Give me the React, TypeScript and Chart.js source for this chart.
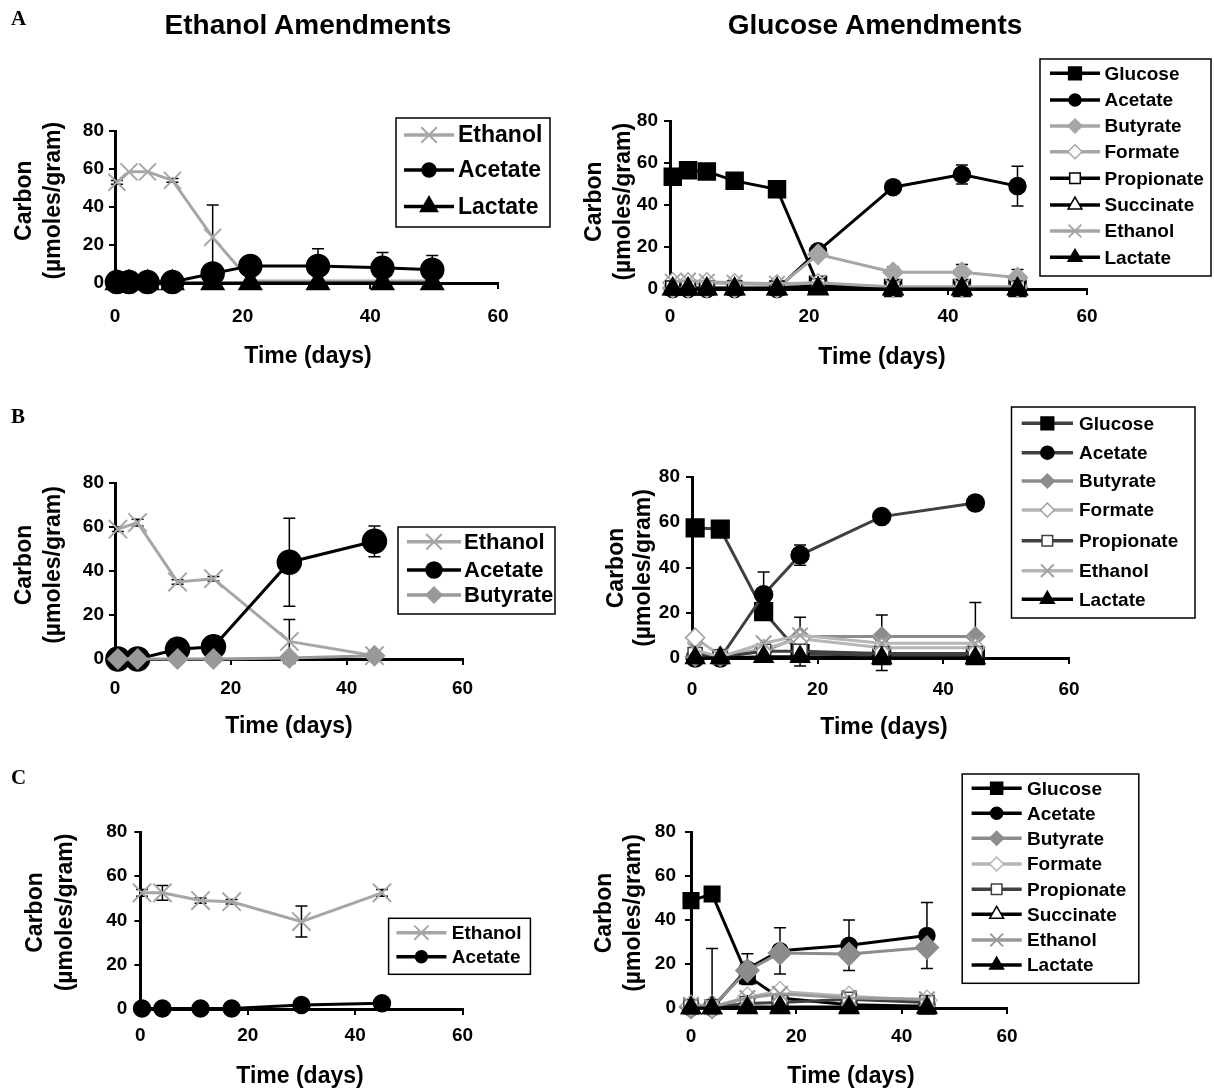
import React, { useEffect, useRef } from 'react';
import { Chart, registerables } from 'chart.js';
import { drawPoint } from 'chart.js/helpers';

Chart.register(...registerables);

const W = 1214;
const H = 1088;
const FONT = '"Liberation Sans", Arial, Helvetica, sans-serif';

// ---------------- text ----------------
const HEADERS = ['Ethanol Amendments', 'Glucose Amendments'];
const ROW_LETTERS = ['A', 'B', 'C'];
const X_TITLE = 'Time (days)';
const Y_TITLE = ['Carbon', '(µmoles/gram)'];
const X_MAX = 60;
const Y_MAX = 80;
const TICK_STEP = 20;

// ---------------- data: A, ethanol amendment ----------------
const A_ETH_DAYS = [0.3, 2.2, 5.1, 9, 15.3, 21.2, 31.8, 41.9, 49.7];
const A_ETH_ETHANOL = [53, 58.5, 58.5, 54, 24, 1, 1, 1, 1];
const A_ETH_ETHANOL_ERR = [1, 0, 0, 1, 17, 0, 0, 0, 0];
const A_ETH_ACETATE = [0.5, 0.5, 0.5, 0.5, 5, 9, 9, 8, 7];
const A_ETH_ACETATE_ERR = [0, 0, 0, 0, 0, 1, 9, 8, 7.5];
const A_ETH_LACTATE = [0, 0, 0, 0, 0, 0, 0, 0, 0];

// ---------------- data: A, glucose amendment ----------------
const A_GLU_DAYS = [0.4, 2.6, 5.3, 9.3, 15.4, 21.3, 32.1, 42, 50];
const A_GLU_GLUCOSE = [53.5, 56.5, 56, 51.5, 47.5, 2, 0.5, 0.5, 0.5];
const A_GLU_ACETATE = [0, 0, 0, 0, 0, 18, 48.5, 54.5, 49];
const A_GLU_ACETATE_ERR = [0, 0, 0, 0, 0, 1, 1.5, 4.5, 9.5];
const A_GLU_BUTYRATE = [0.5, 0.5, 0.5, 0.5, 0.5, 16.5, 8, 8, 5.5];
const A_GLU_BUTYRATE_ERR_UP = [0, 0, 0, 0, 0, 0, 2.5, 3.7, 3.8];
const A_GLU_BUTYRATE_ERR_DOWN = [0, 0, 0, 0, 0, 0, 0, 0, 0];
const A_GLU_FORMATE = [3, 3, 3, 2.5, 2, 2.5, 1, 1, 1];
const A_GLU_PROPIONATE = [0.5, 0.5, 0.5, 0.5, 0.5, 1.5, 0.5, 0.5, 0.5];
const A_GLU_SUCCINATE = [0, 0, 0, 0, 0, 0.5, 0, 0, 0];
const A_GLU_ETHANOL = [3.5, 4, 3.5, 3, 2.5, 3, 1, 1, 1];
const A_GLU_LACTATE = [0, 0, 0, 0, 0, 0, 0, 0, 0];

// ---------------- data: B, ethanol amendment ----------------
const B_ETH_DAYS = [0.5, 3.9, 10.8, 17, 30.1, 44.8];
const B_ETH_ETHANOL = [59, 62, 35, 36.5, 8, 1.5];
const B_ETH_ETHANOL_ERR = [1, 1.5, 1, 1, 10, 0.5];
const B_ETH_ACETATE = [0, 0, 4.4, 5.6, 44, 53.5];
const B_ETH_ACETATE_ERR = [0, 0, 0.5, 0.5, 20, 7];
const B_ETH_BUTYRATE = [0, 0, 0, 0, 0.5, 1.5];

// ---------------- data: B, glucose amendment ----------------
const B_GLU_DAYS = [0.5, 4.5, 11.4, 17.2, 30.2, 45.1];
const B_GLU_GLUCOSE = [57.5, 57, 20.5, 2, 1, 1];
const B_GLU_GLUCOSE_ERR = [0, 0, 0, 5.5, 6.5, 1];
const B_GLU_ACETATE = [0, 0, 28, 45.5, 62.5, 68.5];
const B_GLU_ACETATE_ERR = [0, 0, 10, 4.5, 1, 0.5];
const B_GLU_BUTYRATE = [0.5, 0.5, 3, 9.5, 9.5, 9.5];
const B_GLU_BUTYRATE_ERR_UP = [0, 0, 0, 8.5, 9.5, 15];
const B_GLU_BUTYRATE_ERR_DOWN = [0, 0, 0, 0, 0, 0];
const B_GLU_FORMATE = [9, 1, 4, 8.5, 4.5, 4.5];
const B_GLU_FORMATE_ERR = [1.5, 0, 0, 0, 0, 0];
const B_GLU_PROPIONATE = [1.5, 0.5, 3, 3, 2, 2];
const B_GLU_ETHANOL = [3.5, 0.5, 6.5, 10, 6.5, 6.5];
const B_GLU_LACTATE = [0, 0, 0.5, 0.5, 0, 0];

// ---------------- data: C, ethanol amendment ----------------
const C_ETH_DAYS = [0.3, 4.1, 11.2, 17, 30, 45];
const C_ETH_ETHANOL = [52.5, 52.5, 49, 48.5, 39.5, 52.5];
const C_ETH_ETHANOL_ERR = [1.5, 3.3, 1.2, 1, 7, 1.5];
const C_ETH_ACETATE = [0.2, 0.2, 0.2, 0.2, 1.8, 2.6];

// ---------------- data: C, glucose amendment ----------------
const C_GLU_DAYS = [0, 4, 10.7, 16.9, 30, 44.8];
const C_GLU_GLUCOSE = [48.8, 51.8, 14.6, 4.5, 1.5, 0.8];
const C_GLU_ACETATE = [0, 0, 17.7, 26, 28.5, 33];
const C_GLU_ACETATE_ERR = [0, 0, 7, 10.5, 11.5, 15];
const C_GLU_BUTYRATE = [0.5, 0.5, 17, 25, 24.5, 27.5];
const C_GLU_BUTYRATE_ERR_UP = [0, 26.5, 0, 0, 0, 0];
const C_GLU_BUTYRATE_ERR_DOWN = [0, 0, 0, 0, 0, 0];
const C_GLU_FORMATE = [1, 0.5, 5, 7.5, 5.3, 3.5];
const C_GLU_FORMATE_ERR = [0, 0, 2, 0, 2.5, 2];
const C_GLU_PROPIONATE = [0.5, 0.5, 2, 2.5, 4, 2.5];
const C_GLU_SUCCINATE = [0, 0, 0.5, 0.5, 0.5, 0.5];
const C_GLU_ETHANOL = [1.5, 0.5, 4.5, 6.5, 4.5, 4];
const C_GLU_LACTATE = [0, 0, 0, 0, 0, 0];

// ---------------- styles ----------------
const BLACK = '#000000';
const GRAY = '#a6a6a6';
const MIDGRAY = '#8c8c8c';
const LIGHTGRAY = '#b6b6b6';
const DARKGRAY = '#404040';
const WHITE = '#ffffff';

type Style = { shape: string; line: string; edge: string; fill: string };
const solid = (shape: string, c: string, line: string = c): Style => ({ shape, line, edge: c, fill: c });
const open = (shape: string, c: string, line: string = c): Style => ({ shape, line, edge: c, fill: WHITE });
const cross = (c: string, line: string = c): Style => ({ shape: 'crossRot', line, edge: c, fill: c });

type Series = Style & { label: string; y: number[]; eu?: number[]; ed?: number[]; r: number; lr: number };
type Legend = { box: [number, number, number, number]; rows: number[]; x1: number; x2: number; tx: number; size: number };
type Panel = {
  days: number[];
  area: [number, number, number, number];
  xPad: number;
  yPad: number;
  series: Series[];
  legend: Legend;
  xTitle: [number, number];
  yTitle: [number, number, number];
};

const PANELS: Panel[] = [
  {
    days: A_ETH_DAYS,
    area: [115, 131, 498, 283],
    xPad: 16,
    yPad: 5,
    series: [
      { label: 'Ethanol', y: A_ETH_ETHANOL, eu: A_ETH_ETHANOL_ERR, ...cross(GRAY), r: 12, lr: 11 },
      { label: 'Acetate', y: A_ETH_ACETATE, eu: A_ETH_ACETATE_ERR, ...solid('circle', BLACK), r: 11.5, lr: 7 },
      { label: 'Lactate', y: A_ETH_LACTATE, ...solid('triangle', BLACK), r: 13, lr: 10 },
    ],
    legend: { box: [396, 118, 154, 109], rows: [135, 170, 206.5], x1: 404, x2: 454, tx: 458, size: 23 },
    xTitle: [308, 357],
    yTitle: [25, 53.6, 200.7],
  },
  {
    days: A_GLU_DAYS,
    area: [670, 121, 1087, 289],
    xPad: 10,
    yPad: 6,
    series: [
      { label: 'Glucose', y: A_GLU_GLUCOSE, ...solid('rect', BLACK), r: 12, lr: 9 },
      { label: 'Acetate', y: A_GLU_ACETATE, eu: A_GLU_ACETATE_ERR, ...solid('circle', BLACK), r: 8.5, lr: 6 },
      { label: 'Butyrate', y: A_GLU_BUTYRATE, eu: A_GLU_BUTYRATE_ERR_UP, ed: A_GLU_BUTYRATE_ERR_DOWN, ...solid('rectRot', GRAY), r: 10, lr: 7 },
      { label: 'Formate', y: A_GLU_FORMATE, ...open('rectRot', GRAY), r: 10, lr: 7 },
      { label: 'Propionate', y: A_GLU_PROPIONATE, ...open('rect', BLACK), r: 10, lr: 7.5 },
      { label: 'Succinate', y: A_GLU_SUCCINATE, ...open('triangle', BLACK), r: 11, lr: 8 },
      { label: 'Ethanol', y: A_GLU_ETHANOL, ...cross(GRAY), r: 11, lr: 9 },
      { label: 'Lactate', y: A_GLU_LACTATE, ...solid('triangle', BLACK), r: 11.5, lr: 8 },
    ],
    legend: { box: [1040, 59, 171, 217], rows: [73.3, 100, 126, 151.7, 178.3, 205, 231, 257.3], x1: 1050, x2: 1100, tx: 1104.5, size: 19 },
    xTitle: [882, 358],
    yTitle: [594.6, 623.4, 201.7],
  },
  {
    days: B_ETH_DAYS,
    area: [115, 483, 462.5, 659],
    xPad: 12,
    yPad: 5,
    series: [
      { label: 'Ethanol', y: B_ETH_ETHANOL, eu: B_ETH_ETHANOL_ERR, ...cross(GRAY), r: 13, lr: 11 },
      { label: 'Acetate', y: B_ETH_ACETATE, eu: B_ETH_ACETATE_ERR, ...solid('circle', BLACK), r: 12, lr: 8 },
      { label: 'Butyrate', y: B_ETH_BUTYRATE, ...solid('rectRot', '#999999'), r: 10, lr: 8 },
    ],
    legend: { box: [398, 527, 157, 87], rows: [541.7, 570, 595], x1: 407, x2: 461, tx: 464, size: 22 },
    xTitle: [289, 727],
    yTitle: [25, 53.6, 565],
  },
  {
    days: B_GLU_DAYS,
    area: [692, 477, 1069, 658],
    xPad: 14,
    yPad: 6,
    series: [
      { label: 'Glucose', y: B_GLU_GLUCOSE, eu: B_GLU_GLUCOSE_ERR, ...solid('rect', BLACK, DARKGRAY), r: 12.5, lr: 9 },
      { label: 'Acetate', y: B_GLU_ACETATE, eu: B_GLU_ACETATE_ERR, ...solid('circle', BLACK, DARKGRAY), r: 9, lr: 6.5 },
      { label: 'Butyrate', y: B_GLU_BUTYRATE, eu: B_GLU_BUTYRATE_ERR_UP, ed: B_GLU_BUTYRATE_ERR_DOWN, ...solid('rectRot', MIDGRAY), r: 9.5, lr: 7 },
      { label: 'Formate', y: B_GLU_FORMATE, eu: B_GLU_FORMATE_ERR, ...open('rectRot', '#a0a0a0', LIGHTGRAY), r: 9.5, lr: 7 },
      { label: 'Propionate', y: B_GLU_PROPIONATE, ...open('rect', DARKGRAY), r: 10, lr: 7.5 },
      { label: 'Ethanol', y: B_GLU_ETHANOL, ...cross('#a0a0a0', LIGHTGRAY), r: 11, lr: 9 },
      { label: 'Lactate', y: B_GLU_LACTATE, ...solid('triangle', BLACK), r: 11, lr: 8 },
    ],
    legend: { box: [1011.5, 407, 183.5, 211], rows: [423.3, 452.7, 481, 510, 540.7, 570.7, 599.3], x1: 1021.7, x2: 1073, tx: 1079, size: 19 },
    xTitle: [884, 728],
    yTitle: [617, 644, 568],
  },
  {
    days: C_ETH_DAYS,
    area: [140.4, 832, 462.5, 1009],
    xPad: 9,
    yPad: 7,
    series: [
      { label: 'Ethanol', y: C_ETH_ETHANOL, eu: C_ETH_ETHANOL_ERR, ...cross(GRAY), r: 13, lr: 10 },
      { label: 'Acetate', y: C_ETH_ACETATE, ...solid('circle', BLACK), r: 8.5, lr: 6 },
    ],
    legend: { box: [388.6, 918.3, 141.8, 56], rows: [932.7, 956.7], x1: 396.4, x2: 446.4, tx: 451.8, size: 19 },
    xTitle: [300, 1077],
    yTitle: [35.7, 66, 912.5],
  },
  {
    days: C_GLU_DAYS,
    area: [691, 832, 1007, 1008],
    xPad: 11,
    yPad: 9,
    series: [
      { label: 'Glucose', y: C_GLU_GLUCOSE, ...solid('rect', BLACK), r: 11, lr: 8.5 },
      { label: 'Acetate', y: C_GLU_ACETATE, eu: C_GLU_ACETATE_ERR, ...solid('circle', BLACK), r: 8, lr: 6 },
      { label: 'Butyrate', y: C_GLU_BUTYRATE, eu: C_GLU_BUTYRATE_ERR_UP, ed: C_GLU_BUTYRATE_ERR_DOWN, ...solid('rectRot', MIDGRAY), r: 11.5, lr: 7 },
      { label: 'Formate', y: C_GLU_FORMATE, eu: C_GLU_FORMATE_ERR, ...open('rectRot', LIGHTGRAY), r: 10, lr: 7 },
      { label: 'Propionate', y: C_GLU_PROPIONATE, ...open('rect', DARKGRAY), r: 10, lr: 7.5 },
      { label: 'Succinate', y: C_GLU_SUCCINATE, ...open('triangle', BLACK), r: 11, lr: 8 },
      { label: 'Ethanol', y: C_GLU_ETHANOL, ...cross('#999999'), r: 11, lr: 9 },
      { label: 'Lactate', y: C_GLU_LACTATE, ...solid('triangle', BLACK), r: 11, lr: 8 },
    ],
    legend: { box: [962.2, 774, 176.6, 209.3], rows: [788.3, 813.3, 838.3, 864, 889.3, 914.3, 940, 965], x1: 971.6, x2: 1021.7, tx: 1027, size: 19 },
    xTitle: [851, 1077],
    yTitle: [605, 633.7, 913],
  },
];

// ---------------- plugins ----------------
const errorBars = {
  id: 'errorBars',
  beforeDatasetsDraw(chart: any) {
    const ctx = chart.ctx;
    const xs = chart.scales.x;
    const ys = chart.scales.y;
    ctx.save();
    ctx.strokeStyle = BLACK;
    ctx.lineWidth = 1.5;
    chart.data.datasets.forEach((ds: any) => {
      const up: number[] | undefined = ds.errUp;
      const dn: number[] | undefined = ds.errDown;
      if (!up && !dn) return;
      ds.data.forEach((pt: any, j: number) => {
        const u = up ? up[j] : 0;
        const d = dn ? dn[j] : 0;
        if (!u && !d) return;
        const px = xs.getPixelForValue(pt.x);
        const yTop = ys.getPixelForValue(pt.y + u);
        const yBot = ys.getPixelForValue(pt.y - d);
        ctx.beginPath();
        ctx.moveTo(px, yTop);
        ctx.lineTo(px, yBot);
        if (u) {
          ctx.moveTo(px - 6, yTop);
          ctx.lineTo(px + 6, yTop);
        }
        if (d) {
          ctx.moveTo(px - 6, yBot);
          ctx.lineTo(px + 6, yBot);
        }
        ctx.stroke();
      });
    });
    ctx.restore();
  },
};

function legendPlugin(p: Panel) {
  return {
    id: 'panelLegend',
    afterDatasetsDraw(chart: any) {
      const ctx = chart.ctx;
      const L = p.legend;
      const [bx, by, bw, bh] = L.box;
      ctx.save();
      ctx.fillStyle = WHITE;
      ctx.fillRect(bx, by, bw, bh);
      ctx.strokeStyle = BLACK;
      ctx.lineWidth = 1.5;
      ctx.strokeRect(bx, by, bw, bh);
      p.series.forEach((s, i) => {
        const y = L.rows[i];
        ctx.strokeStyle = s.line;
        ctx.lineWidth = 3.5;
        ctx.beginPath();
        ctx.moveTo(L.x1, y);
        ctx.lineTo(L.x2, y);
        ctx.stroke();
        ctx.fillStyle = s.fill;
        ctx.strokeStyle = s.edge;
        const bwid = s.shape === 'crossRot' ? 2 : 1.5;
        ctx.lineWidth = bwid;
        drawPoint(ctx, { pointStyle: s.shape as any, radius: s.lr, rotation: 0, borderWidth: bwid } as any, (L.x1 + L.x2) / 2, y);
        ctx.fillStyle = BLACK;
        ctx.font = `bold ${L.size}px ${FONT}`;
        ctx.textAlign = 'left';
        ctx.textBaseline = 'middle';
        ctx.fillText(s.label, L.tx, y + 1);
      });
      ctx.restore();
    },
  };
}

function titlesPlugin(p: Panel) {
  return {
    id: 'axisTitles',
    afterDraw(chart: any) {
      const ctx = chart.ctx;
      ctx.save();
      ctx.fillStyle = BLACK;
      ctx.font = `bold 23px ${FONT}`;
      ctx.textAlign = 'center';
      ctx.textBaseline = 'middle';
      ctx.fillText(X_TITLE, p.xTitle[0], p.xTitle[1]);
      const [x1, x2, cy] = p.yTitle;
      [x1, x2].forEach((x, i) => {
        ctx.save();
        ctx.translate(x, cy);
        ctx.rotate(-Math.PI / 2);
        ctx.fillText(Y_TITLE[i], 0, 0);
        ctx.restore();
      });
      ctx.restore();
    },
  };
}

const Y_BOX = 60; // width reserved for y tick labels
const X_BOX = 48; // height reserved for x tick labels

function buildConfig(p: Panel): any {
  const [l, t, r, b] = p.area;
  const n = p.series.length;
  const tickFont = { family: FONT, size: 19, weight: 'bold' as const };
  return {
    type: 'line',
    data: {
      datasets: p.series.map((s, i) => ({
        label: s.label,
        data: p.days.map((d, j) => ({ x: d, y: s.y[j] })),
        borderColor: s.line,
        borderWidth: 3,
        backgroundColor: s.fill,
        pointStyle: s.shape,
        pointRadius: s.r,
        pointHoverRadius: s.r,
        pointBackgroundColor: s.fill,
        pointBorderColor: s.edge,
        pointBorderWidth: s.shape === 'crossRot' ? 2 : 1.5,
        tension: 0,
        fill: false,
        clip: false,
        order: n - i,
        errUp: s.eu,
        errDown: s.ed ?? s.eu,
      })),
    },
    options: {
      animation: false,
      responsive: false,
      events: [],
      layout: { padding: { left: l - Y_BOX, top: t, right: W - r, bottom: H - b - X_BOX } },
      scales: {
        x: {
          type: 'linear',
          min: 0,
          max: X_MAX,
          afterFit: (s: any) => {
            s.height = X_BOX;
          },
          ticks: { stepSize: TICK_STEP, color: BLACK, font: tickFont, padding: p.xPad, maxRotation: 0, autoSkip: false },
          grid: { drawOnChartArea: false, drawTicks: true, tickLength: 6, color: BLACK, lineWidth: 2 },
          border: { display: true, color: BLACK, width: 3 },
        },
        y: {
          type: 'linear',
          min: 0,
          max: Y_MAX,
          afterFit: (s: any) => {
            s.width = Y_BOX;
          },
          ticks: { stepSize: TICK_STEP, color: BLACK, font: tickFont, padding: p.yPad },
          grid: { drawOnChartArea: false, drawTicks: true, tickLength: 6, color: BLACK, lineWidth: 2 },
          border: { display: true, color: BLACK, width: 3 },
        },
      },
      plugins: { legend: { display: false }, tooltip: { enabled: false } },
    },
    plugins: [errorBars, legendPlugin(p), titlesPlugin(p)],
  };
}

const HEADER_POS: [number, number][] = [
  [308, 25],
  [875, 25],
];
const LETTER_TOPS = [8, 406, 767];

export default function App() {
  const refs = useRef<(HTMLCanvasElement | null)[]>([]);
  useEffect(() => {
    const charts = PANELS.map((p, i) => new Chart(refs.current[i] as HTMLCanvasElement, buildConfig(p)));
    return () => charts.forEach((c) => c.destroy());
  }, []);
  return (
    <div style={{ position: 'absolute', left: 0, top: 0, width: W, height: H, background: WHITE, overflow: 'hidden' }}>
      {PANELS.map((_, i) => (
        <canvas
          key={i}
          ref={(el) => {
            refs.current[i] = el;
          }}
          width={W}
          height={H}
          style={{ position: 'absolute', left: 0, top: 0, width: W, height: H }}
        />
      ))}
      {HEADERS.map((h, i) => (
        <div
          key={h}
          style={{
            position: 'absolute',
            left: HEADER_POS[i][0] - 250,
            top: HEADER_POS[i][1] - 14,
            width: 500,
            textAlign: 'center',
            font: `bold 28px ${FONT}`,
            lineHeight: '28px',
            color: BLACK,
            whiteSpace: 'nowrap',
          }}
        >
          {h}
        </div>
      ))}
      {ROW_LETTERS.map((c, i) => (
        <div
          key={c}
          style={{
            position: 'absolute',
            left: 11,
            top: LETTER_TOPS[i],
            font: `bold 21px "Liberation Serif", "Times New Roman", serif`,
            lineHeight: '21px',
            color: BLACK,
          }}
        >
          {c}
        </div>
      ))}
    </div>
  );
}
